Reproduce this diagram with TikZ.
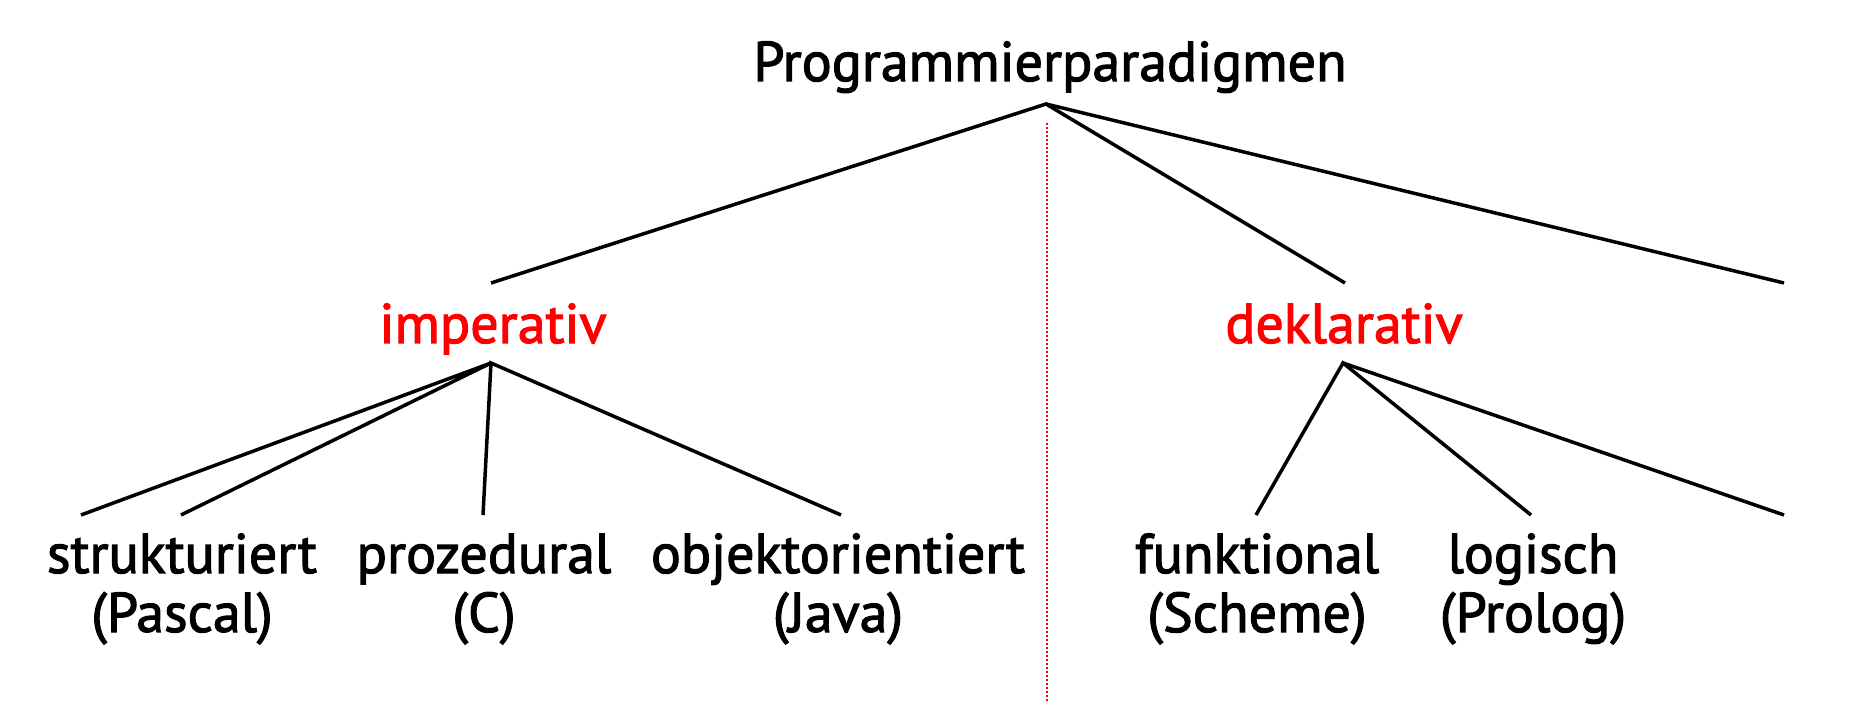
\documentclass[tikz,border=0pt]{standalone}
\usepackage{fontspec}
\setmainfont{PT Sans}
\newfontfamily\lblfont[FakeBold=2]{PT Sans}
\definecolor{hred}{RGB}{255,0,0}
\begin{document}
\begin{tikzpicture}[x=1pt,y=-1pt,
  lbl/.style={inner sep=0pt, anchor=base, align=center, font=\lblfont\fontsize{56}{59}\selectfont},
  cat/.style={lbl, text=hred},
  edge/.style={draw=black, line width=3.5pt, line cap=butt},
  divider/.style={draw=hred, line width=1.3pt, dash pattern=on 2pt off 2pt}]
\useasboundingbox (0,0) rectangle (1864,708);
% nodes
\node[lbl] (root) at (1050,81) {Programmierparadigmen};
\node[cat] (imp) at (493,343) {imperativ};
\node[cat] (dek) at (1344,343) {deklarativ};
\node[lbl] (str) at (182,632) {strukturiert\\(Pascal)};
\node[lbl] (pro) at (484,632) {prozedural\\(C)};
\node[lbl] (obj) at (838,632) {objektorientiert\\(Java)};
\node[lbl] (fun) at (1257,632) {funktional\\(Scheme)};
\node[lbl] (log) at (1533,632) {logisch\\(Prolog)};
% connector points
\coordinate (rA) at (1046,104);
\coordinate (rImp) at (491,283);
\coordinate (rDek) at (1345,283);
\coordinate (rX) at (1784,283);
\coordinate (iA) at (491,363);
\coordinate (iS1) at (81,515);
\coordinate (iS2) at (181,515);
\coordinate (iP) at (483,515);
\coordinate (iO) at (841,515);
\coordinate (dA) at (1343,363);
\coordinate (dF) at (1256,515);
\coordinate (dL) at (1531,515);
\coordinate (dX) at (1784,515);
\coordinate (vTop) at (1047,123);
\coordinate (vBot) at (1047,702);
% connectors
\draw[edge] (rImp) -- (rA) -- (rDek);
\draw[edge] (rA) -- (rX);
\draw[edge] (iS1) -- (iA) -- (iS2);
\draw[edge] (iP) -- (iA) -- (iO);
\draw[edge] (dF) -- (dA) -- (dL);
\draw[edge] (dA) -- (dX);
\draw[divider] (vTop) -- (vBot);
\end{tikzpicture}
\end{document}
